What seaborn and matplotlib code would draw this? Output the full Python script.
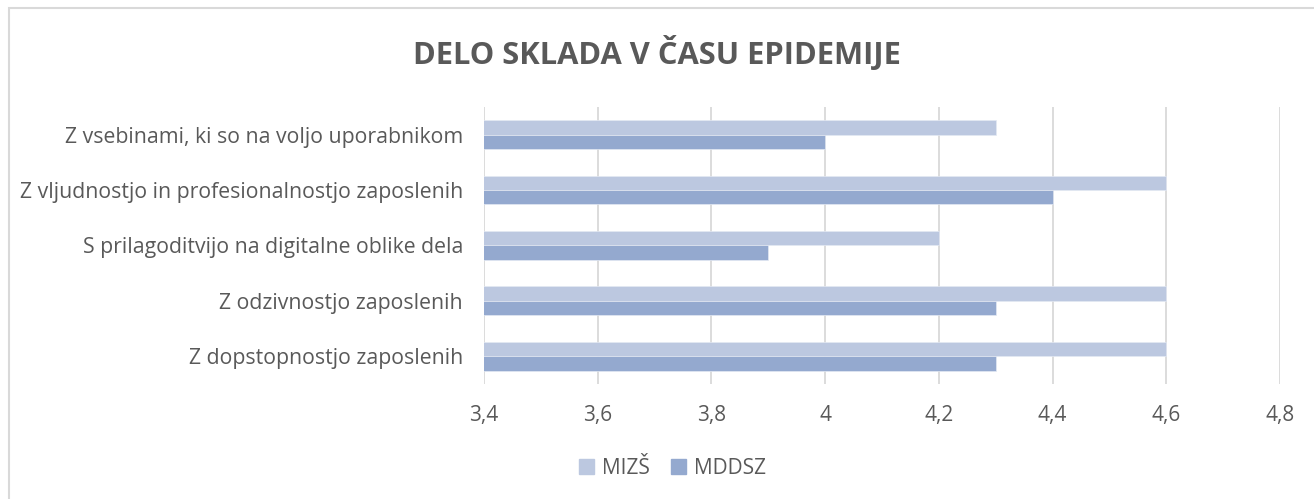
import matplotlib
matplotlib.use("Agg")
import matplotlib.pyplot as plt
import matplotlib.patches as mpatches
import pandas as pd
import seaborn as sns

categories = [
    "Z vsebinami, ki so na voljo uporabnikom",
    "Z vljudnostjo in profesionalnostjo zaposlenih",
    "S prilagoditvijo na digitalne oblike dela",
    "Z odzivnostjo zaposlenih",
    "Z dopstopnostjo zaposlenih",
]
series_names = ["MIZŠ", "MDDSZ"]
mizs = [4.3, 4.6, 4.2, 4.6, 4.6]
mddsz = [4.0, 4.4, 3.9, 4.3, 4.3]
x_ticks = [3.4, 3.6, 3.8, 4.0, 4.2, 4.4, 4.6, 4.8]
x_tick_labels = ["3,4", "3,6", "3,8", "4", "4,2", "4,4", "4,6", "4,8"]
title = "DELO SKLADA V ČASU EPIDEMIJE"

colors = ["#BCC8E0", "#94A9CF"]
text_col = "#595959"
grid_col = "#D9D9D9"

df = pd.DataFrame({
    "category": categories * 2,
    "series": [series_names[0]] * len(categories) + [series_names[1]] * len(categories),
    "value": mizs + mddsz,
})

sns.set_style("white")
plt.rcParams["font.family"] = ["Open Sans", "DejaVu Sans"]

fig = plt.figure(figsize=(13.14, 4.99), dpi=100)
ax = fig.add_axes([0.3683, 0.2305, 0.6058, 0.5551])

sns.barplot(data=df, y="category", x="value", hue="series", order=categories,
            hue_order=series_names, palette=colors, orient="h", width=0.52,
            saturation=1, legend=False, ax=ax, zorder=3,
            edgecolor="#E4E9F3", linewidth=0.5)

ax.set_xlim(x_ticks[0], x_ticks[-1])
ax.set_ylim(len(categories) - 0.5, -0.5)
ax.set_xticks(x_ticks)
ax.set_xticklabels(x_tick_labels)
ax.set_xlabel("")
ax.set_ylabel("")
ax.grid(axis="x", color=grid_col, linewidth=1.3, zorder=0)
ax.grid(axis="y", visible=False)
for s in ax.spines.values():
    s.set_visible(False)
ax.tick_params(axis="x", length=0, pad=15, labelsize=15, labelcolor=text_col)
ax.tick_params(axis="y", length=0, pad=15, labelsize=15.3, labelcolor=text_col)

fig.text(0.5, 0.893, title, ha="center", va="center", fontsize=22.2,
         fontweight="bold", color=text_col)

handles = [mpatches.Patch(color=c, label=n) for c, n in zip(colors, series_names)]
fig.legend(handles=handles, loc="center", bbox_to_anchor=(0.512, 0.062), ncol=2,
           frameon=False, fontsize=15, handlelength=0.7, handleheight=0.7,
           handletextpad=0.4, columnspacing=1.0, labelcolor=text_col)

fig.patches.append(mpatches.Rectangle((0.0068, -0.02), 1.0, 1.003, transform=fig.transFigure,
                                      fill=False, edgecolor=grid_col, linewidth=1.5))

fig.savefig("out.png", dpi=100)
